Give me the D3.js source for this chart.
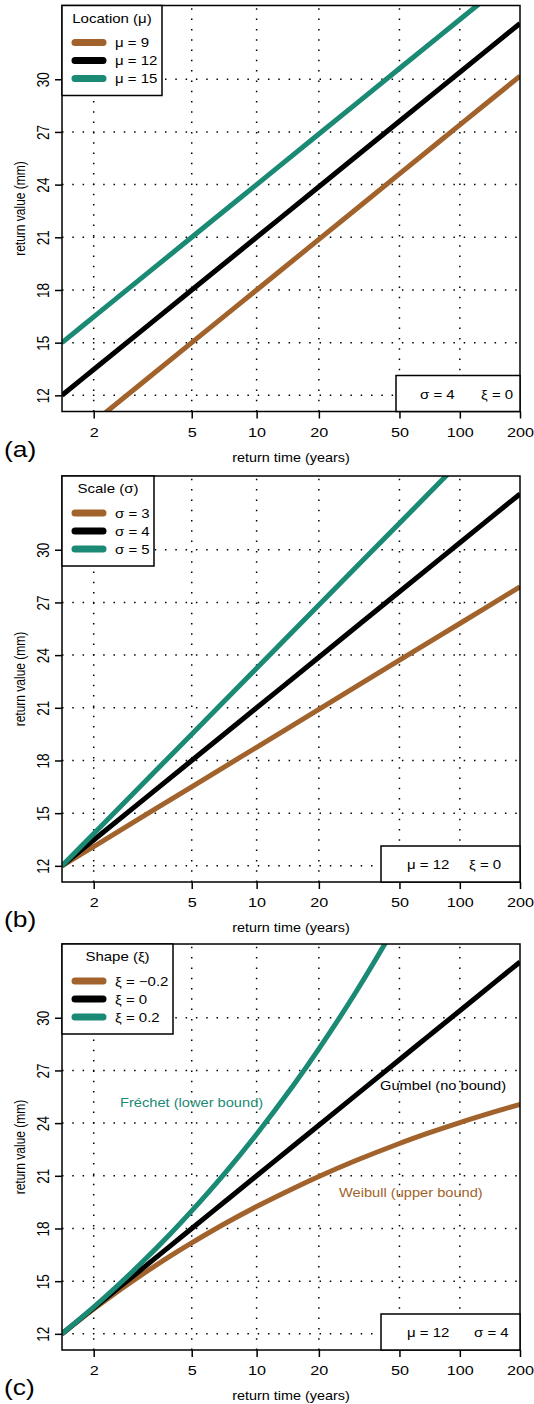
<!DOCTYPE html>
<html lang="en">
<head>
  <meta charset="UTF-8">
  <title>GEV return levels</title>
  <style>
    body { margin: 0; background: #fff; }
    text { font-family: "Liberation Sans", Arial, sans-serif; fill: #000; }
  </style>
</head>
<body>
<svg width="534" height="1404"></svg>

<script src="https://cdn.jsdelivr.net/npm/d3@7"></script>
<script>
  // return periods (years) read along the x axis
  var returnTimes = [1.582, 2, 5, 10, 20, 50, 100, 200];
  var shapeTimes = [1.582, 1.8, 2, 2.5, 3, 4, 5, 7, 10, 15, 20, 30, 50, 70, 100, 150, 200];

  // (a) location
  var locMu9  = [9, 10.47, 15.00, 18.00, 20.88, 24.61, 27.40, 30.18];
  var locMu12 = [12, 13.47, 18.00, 21.00, 23.88, 27.61, 30.40, 33.18];
  var locMu15 = [15, 16.47, 21.00, 24.00, 26.88, 30.61, 33.40, 36.18];
  // (b) scale
  var sclSig3 = [12, 13.10, 16.50, 18.75, 20.91, 23.71, 25.80, 27.89];
  var sclSig4 = [12, 13.47, 18.00, 21.00, 23.88, 27.61, 30.40, 33.18];
  var sclSig5 = [12, 13.83, 19.50, 23.25, 26.85, 31.51, 35.00, 38.48];
  // (c) shape
  var shpXiNeg = [12, 12.82, 13.41, 14.51, 15.30, 16.41, 17.18, 18.24, 19.25, 20.28, 20.96, 21.84, 22.84, 23.44, 24.03, 24.65, 25.07];
  var shpXi0   = [12, 12.84, 13.47, 14.69, 15.61, 16.98, 18.00, 19.48, 21.00, 22.70, 23.88, 25.54, 27.61, 28.97, 30.40, 32.03, 33.18];
  var shpXiPos = [12, 12.86, 13.52, 14.88, 15.96, 17.66, 19.00, 21.07, 23.37, 26.14, 28.23, 31.35, 35.65, 38.71, 42.19, 46.44, 49.68];

  var xTicks = [2, 5, 10, 20, 50, 100, 200];
  var yTicks = [12, 15, 18, 21, 24, 27, 30];

  var brown = '#A1632B', teal = '#1B8A75', black = '#000';
  var sx = 1.2;   // text in the reference is a bit wide

  var svg = d3.select('svg');
  var left = 62, right = 520, ph = 406;
  var tops = [5.5, 476, 944];

  // gumbel reduced variate for the x axis
  function gumbel(T) { return -Math.log(-Math.log(1 - 1 / T)); }
  var xLin = d3.scaleLinear().domain([0, gumbel(200)]).range([left, right]);
  function x(T) { return xLin(gumbel(T)); }

  var panels = [
    {tag: '(a)', title: 'Location (\u03bc)', legW: 100, times: returnTimes,
      series: [{v: locMu9, c: brown, lab: '\u03bc = 9'}, {v: locMu12, c: black, lab: '\u03bc = 12'}, {v: locMu15, c: teal, lab: '\u03bc = 15'}],
      boxX: 396, info: [['\u03c3 = 4', 420], ['\u03be = 0', 481]]},
    {tag: '(b)', title: 'Scale (\u03c3)', legW: 92, times: returnTimes,
      series: [{v: sclSig3, c: brown, lab: '\u03c3 = 3'}, {v: sclSig4, c: black, lab: '\u03c3 = 4'}, {v: sclSig5, c: teal, lab: '\u03c3 = 5'}],
      boxX: 381, info: [['\u03bc = 12', 407], ['\u03be = 0', 469]]},
    {tag: '(c)', title: 'Shape (\u03be)', legW: 111, times: shapeTimes,
      series: [{v: shpXiNeg, c: brown, lab: '\u03be = \u22120.2'}, {v: shpXi0, c: black, lab: '\u03be = 0'}, {v: shpXiPos, c: teal, lab: '\u03be = 0.2'}],
      boxX: 381, info: [['\u03bc = 12', 407], ['\u03c3 = 4', 474]]}
  ];

  function stretchText(sel, x0, y0) {
    return sel.attr('transform', 'translate(' + x0 + ',' + y0 + ') scale(' + sx + ',1)');
  }

  panels.forEach(function (p, k) {
    var top = tops[k], bottom = top + ph;
    var y = d3.scaleLinear().domain([11.08, 34.2]).range([bottom, top]);
    var g = svg.append('g');

    // clip
    g.append('clipPath').attr('id', 'clip' + k).append('rect')
      .attr('x', left).attr('y', top).attr('width', right - left).attr('height', ph);

    // dotted grid
    var grid = g.append('g').attr('stroke', '#000').attr('stroke-width', 1.5).attr('stroke-dasharray', '1.5 8.8');
    grid.selectAll('.vg').data(xTicks.slice(0, -1)).enter().append('line')
      .attr('x1', function (d) { return x(d); }).attr('x2', function (d) { return x(d); })
      .attr('y1', bottom).attr('y2', top);
    grid.selectAll('.hg').data(yTicks).enter().append('line')
      .attr('y1', function (d) { return y(d); }).attr('y2', function (d) { return y(d); })
      .attr('x1', left).attr('x2', right);

    // curves
    var line = d3.line().curve(d3.curveCatmullRom)
      .x(function (d, i) { return x(p.times[i]); }).y(function (d) { return y(d); });
    g.append('g').attr('clip-path', 'url(#clip' + k + ')')
      .selectAll('path').data(p.series).enter().append('path')
      .attr('d', function (s) { return line(s.v); })
      .attr('fill', 'none').attr('stroke', function (s) { return s.c; })
      .attr('stroke-width', 5);

    // box
    g.append('rect').attr('x', left).attr('y', top).attr('width', right - left).attr('height', ph)
      .attr('fill', 'none').attr('stroke', '#000').attr('stroke-width', 1.5);

    // x axis
    var xAxis = d3.axisBottom(xLin).tickValues(xTicks.map(gumbel))
      .tickFormat(function (d, i) { return xTicks[i]; }).tickSize(7).tickSizeOuter(0);
    var xa = g.append('g').attr('transform', 'translate(0,' + bottom + ')').call(xAxis);
    xa.select('.domain').remove();
    xa.selectAll('line').attr('stroke-width', 1.5);
    xa.selectAll('text').attr('y', 0).attr('dy', 0).attr('font-size', 13.5)
      .attr('font-family', '"Liberation Sans", Arial, sans-serif')
      .attr('transform', 'translate(0,25) scale(' + sx + ',1)');

    // y axis
    var yAxis = d3.axisLeft(y).tickValues(yTicks).tickSize(7).tickSizeOuter(0);
    var ya = g.append('g').attr('transform', 'translate(' + left + ',0)').call(yAxis);
    ya.select('.domain').remove();
    ya.selectAll('line').attr('stroke-width', 1.5);
    ya.selectAll('text').attr('x', 0).attr('dy', 0).attr('text-anchor', 'middle').attr('font-size', 13.5)
      .attr('font-family', '"Liberation Sans", Arial, sans-serif')
      .attr('transform', 'translate(-13,0) rotate(-90) scale(1,' + sx + ')');

    // axis titles
    stretchText(g.append('text').attr('text-anchor', 'middle').attr('font-size', 12)
      .text('return time (years)'), (left + right) / 2, bottom + 50);
    g.append('text').attr('text-anchor', 'middle').attr('font-size', 12)
      .attr('transform', 'translate(25,' + (top + bottom) / 2 + ') rotate(-90) scale(1,' + sx + ')')
      .text('return value (mm)');

    // panel tag
    stretchText(g.append('text').attr('font-size', 22).text(p.tag), 4, bottom + 45);

    // legend
    var lg = g.append('g').attr('transform', 'translate(' + left + ',' + top + ')');
    lg.append('rect').attr('width', p.legW).attr('height', 90)
      .attr('fill', '#fff').attr('stroke', '#000').attr('stroke-width', 1.5);
    stretchText(lg.append('text').attr('text-anchor', 'middle').attr('font-size', 12.5).text(p.title), p.legW / 2, 17);
    var items = lg.selectAll('.item').data(p.series).enter().append('g')
      .attr('transform', function (d, i) { return 'translate(0,' + (37 + i * 18) + ')'; });
    items.append('line').attr('x1', 13).attr('x2', 41)
      .attr('stroke', function (d) { return d.c; }).attr('stroke-width', 7).attr('stroke-linecap', 'round');
    items.append('text').attr('font-size', 12.5)
      .attr('transform', 'translate(53,4.5) scale(' + sx + ',1)')
      .text(function (d) { return d.lab; });

    // parameter box
    var ib = g.append('g');
    ib.append('rect').attr('x', p.boxX).attr('y', bottom - 36).attr('width', right - p.boxX).attr('height', 36)
      .attr('fill', '#fff').attr('stroke', '#000').attr('stroke-width', 1.5);
    p.info.forEach(function (t) {
      stretchText(ib.append('text').attr('font-size', 12.5).text(t[0]), t[1], bottom - 13);
    });

    if (k === 2) {
      stretchText(g.append('text').attr('font-size', 12.2).style('fill', teal)
        .text('Fr\u00e9chet (lower bound)'), 120, 1107);
      stretchText(g.append('text').attr('font-size', 12.2)
        .text('Gumbel (no bound)'), 380, 1090);
      stretchText(g.append('text').attr('font-size', 12.2).style('fill', brown)
        .text('Weibull (upper bound)'), 339, 1197);
    }
  });
</script>
</body>
</html>
